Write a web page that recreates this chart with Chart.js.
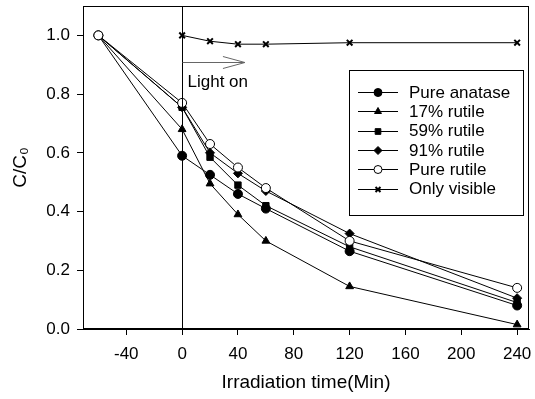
<!DOCTYPE html>
<html lang="en">
<head>
<meta charset="UTF-8" />
<title>C/C0 vs irradiation time</title>
<script src="https://cdn.jsdelivr.net/npm/chart.js"></script>
<style>
  html, body { margin: 0; padding: 0; background: #fff; }
  #wrap { width: 535px; height: 399px; }
</style>
</head>
<body>
<div id="wrap"><canvas id="chart"></canvas></div>
<script>
// data
const timeAll = [-60, 0, 20, 40, 60, 120, 240];
const timeVisible = [0, 20, 40, 60, 120, 240];
const pureAnatase = [1.0, 0.59, 0.525, 0.46, 0.41, 0.265, 0.08];
const rutile17 = [1.0, 0.68, 0.495, 0.39, 0.30, 0.145, 0.015];
const rutile59 = [1.0, 0.755, 0.585, 0.49, 0.42, 0.28, 0.09];
const rutile91 = [1.0, 0.755, 0.60, 0.53, 0.47, 0.325, 0.105];
const pureRutile = [1.0, 0.77, 0.63, 0.55, 0.48, 0.30, 0.14];
const onlyVisible = [1.0, 0.98, 0.97, 0.97, 0.975, 0.975];
const xTicks = [-40, 0, 40, 80, 120, 160, 200, 240];
const yTicks = [0, 0.2, 0.4, 0.6, 0.8, 1.0];

const FONT = 'Arial, "Liberation Sans", sans-serif';

function pts(xs, ys) { return xs.map((x, i) => ({ x: x, y: ys[i] })); }

function series(label, xs, ys, style, fill) {
    return {
        label: label,
        data: pts(xs, ys),
        borderColor: '#000',
        borderWidth: 1,
        pointStyle: style,
        pointRadius: style === 'crossRot' ? 4 : 4.5,
        pointBorderWidth: style === 'crossRot' ? 2 : 1,
        pointBackgroundColor: fill,
        pointBorderColor: '#000',
        showLine: true,
        tension: 0
    };
}

const datasets = [
    series('Pure anatase', timeAll, pureAnatase, 'circle', '#000'),
    series('17% rutile', timeAll, rutile17, 'triangle', '#000'),
    series('59% rutile', timeAll, rutile59, 'rect', '#000'),
    series('91% rutile', timeAll, rutile91, 'rectRot', '#000'),
    series('Pure rutile', timeAll, pureRutile, 'circle', '#fff'),
    series('Only visible', timeVisible, onlyVisible, 'crossRot', '#000')
];
// draw open circles on top
datasets[4].order = -1;

// box, light-on marker and legend
const extras = {
    id: 'extras',
    afterDatasetsDraw(chart) {
        const ctx = chart.ctx;
        const a = chart.chartArea;
        const xs = chart.scales.x, ys = chart.scales.y;
        ctx.save();
        ctx.strokeStyle = '#000';
        ctx.lineWidth = 1;
        ctx.strokeRect(a.left + 0.5, a.top + 0.5, a.right - a.left - 1, a.bottom - a.top - 1);

        // vertical line at t = 0
        const x0 = Math.round(xs.getPixelForValue(0)) + 0.5;
        ctx.beginPath();
        ctx.moveTo(x0, a.top);
        ctx.lineTo(x0, a.bottom);
        ctx.stroke();

        // arrow
        const ay = Math.round(ys.getPixelForValue(0.91)) + 0.5;
        const tip = xs.getPixelForValue(45);
        ctx.strokeStyle = '#666';
        ctx.beginPath();
        ctx.moveTo(x0, ay);
        ctx.lineTo(tip, ay);
        ctx.moveTo(tip - 22, ay - 6);
        ctx.lineTo(tip, ay);
        ctx.lineTo(tip - 22, ay + 6);
        ctx.stroke();

        ctx.fillStyle = '#000';
        ctx.font = '17px ' + FONT;
        ctx.textBaseline = 'middle';
        ctx.textAlign = 'left';
        ctx.fillText('Light on', x0 + 5, ys.getPixelForValue(0.84));

        // legend
        const bx = 349, by = 70, bw = 174, bh = 145;
        ctx.strokeStyle = '#000';
        ctx.strokeRect(bx + 0.5, by + 0.5, bw, bh);
        ctx.font = '17px ' + FONT;
        datasets.forEach((d, i) => {
            const y = 92 + i * 19.3;
            ctx.strokeStyle = '#000';
            ctx.lineWidth = 1;
            ctx.beginPath();
            ctx.moveTo(358, Math.round(y) + 0.5);
            ctx.lineTo(398, Math.round(y) + 0.5);
            ctx.stroke();
            ctx.fillStyle = d.pointBackgroundColor;
            ctx.lineWidth = d.pointBorderWidth;
            Chart.helpers.drawPoint(ctx, { pointStyle: d.pointStyle, radius: d.pointRadius - 0.5, borderWidth: d.pointBorderWidth, rotation: 0 }, 378, Math.round(y) + 0.5);
            ctx.fillStyle = '#000';
            ctx.fillText(d.label, 409, y + 1);
        });
        ctx.restore();
    }
};

new Chart(document.getElementById('chart'), {
    type: 'scatter',
    data: { datasets: datasets },
    options: {
        responsive: true,
        maintainAspectRatio: false,
        animation: false,
        layout: { padding: { top: 6, right: 0, left: 0, bottom: 0 } },
        plugins: { legend: { display: false }, tooltip: { enabled: false } },
        scales: {
            x: {
                type: 'linear',
                min: -71,
                max: 248.5,
                afterBuildTicks: s => { s.ticks = xTicks.map(v => ({ value: v })); },
                afterFit: s => { s.height = 70; s.paddingLeft = 0; s.paddingRight = 0; },
                grid: { display: true, drawOnChartArea: false, drawTicks: true, tickLength: 6, color: '#000' },
                border: { display: true, color: '#000' },
                ticks: { color: '#000', font: { family: FONT, size: 17 }, padding: 9, maxRotation: 0 },
                title: { display: true, text: 'Irradiation time(Min)', color: '#000', font: { family: FONT, size: 19 }, padding: { top: 4, bottom: 5 } }
            },
            y: {
                type: 'linear',
                min: 0,
                max: 1.1,
                afterBuildTicks: s => { s.ticks = yTicks.map(v => ({ value: v })); },
                afterFit: s => { s.width = 83; s.paddingTop = 0; s.paddingBottom = 0; },
                grid: { display: true, drawOnChartArea: false, drawTicks: true, tickLength: 6, color: '#000' },
                border: { display: true, color: '#000' },
                ticks: { color: '#000', font: { family: FONT, size: 17 }, padding: 7, callback: v => v.toFixed(1) },
                title: { display: true, text: 'C/C\u2080', color: '#000', font: { family: FONT, size: 19 }, padding: { top: 9, bottom: 0 } }
            }
        }
    },
    plugins: [extras]
});
</script>
</body>
</html>
